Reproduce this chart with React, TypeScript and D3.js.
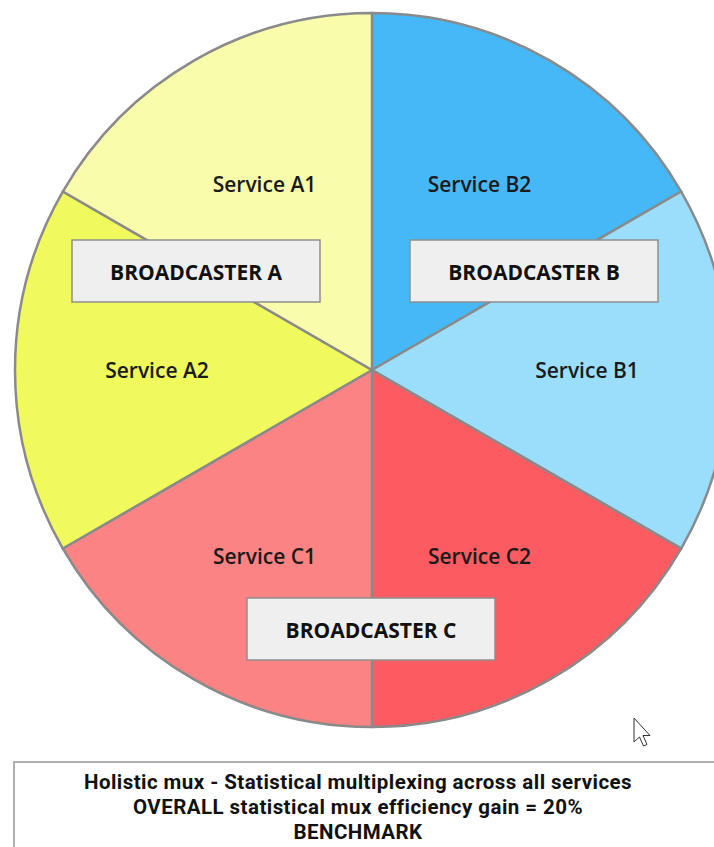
import React from "react";
import * as d3 from "d3";

const services = ["Service B2", "Service B1", "Service C2", "Service C1", "Service A2", "Service A1"];
const shares = [1, 1, 1, 1, 1, 1];
const sliceColors = ["#46b8f7", "#9bdefb", "#fb5b61", "#fb8384", "#f0fa5c", "#f9fcaa"];
const broadcasters = ["BROADCASTER A", "BROADCASTER B", "BROADCASTER C"];
const captionLines = [
  "Holistic mux - Statistical multiplexing across all services",
  "OVERALL statistical mux efficiency gain = 20%",
  "BENCHMARK",
];

const W = 714;
const H = 847;
const cx = 372;
const cy = 370;
const R = 357;
const FONT = "'Open Sans', sans-serif";
const CAPTION_FONT = "Roboto, 'Open Sans', sans-serif";
// layout: centres of the broadcaster boxes
const boxCentres: [number, number][] = [
  [196, 271],
  [534, 271],
  [371, 629],
];

export default function App() {
  const pie = d3.pie<number>().sort(null).value((d) => d);
  const arcs = pie(shares);
  const arc = d3.arc<d3.PieArcDatum<number>>().innerRadius(0).outerRadius(R);
  const labelArc = d3.arc<d3.PieArcDatum<number>>().innerRadius(215).outerRadius(215);

  const boxW = 248;
  const boxH = 62;

  return (
    <svg
      width={W}
      height={H}
      style={{ position: "absolute", left: 0, top: 0, background: "#ffffff" }}
    >
      <g transform={`translate(${cx},${cy})`}>
        {arcs.map((a, i) => (
          <path key={i} d={arc(a) || ""} fill={sliceColors[i]} stroke="#8a8a8a" strokeWidth={2.5} strokeLinejoin="round" />
        ))}
        {arcs.map((a, i) => {
          const [x, y] = labelArc.centroid(a);
          return (
            <text
              key={"l" + i}
              x={x}
              y={y}
              textAnchor="middle"
              dominantBaseline="central"
              fontFamily={FONT}
              fontWeight={600}
              fontSize={21}
              fill="#1a1a1a"
            >
              {services[i]}
            </text>
          );
        })}
      </g>
      {broadcasters.map((b, i) => {
        const [x, y] = boxCentres[i];
        return (
          <g key={"b" + i} transform={`translate(${x},${y})`}>
            <rect
              x={-boxW / 2}
              y={-boxH / 2}
              width={boxW}
              height={boxH}
              fill="#efefef"
              stroke="#8f8f8f"
              strokeWidth={1.5}
            />
            <text
              x={0}
              y={1}
              textAnchor="middle"
              dominantBaseline="central"
              fontFamily={FONT}
              fontWeight={700}
              fontSize={21}
              fill="#111"
            >
              {b}
            </text>
          </g>
        );
      })}

      {/* mouse cursor */}
      <path
        d="M634,718 L634,742 L639.5,737 L643.5,746 L647,744.5 L643,735.5 L650,735.5 Z"
        fill="#ffffff"
        stroke="#333"
        strokeWidth={1}
        strokeLinejoin="round"
      />

      <rect x={14} y={762} width={720} height={110} fill="#ffffff" stroke="#b0b0b0" strokeWidth={2} />
      {captionLines.map((t, i) => (
        <text
          key={"c" + i}
          x={358}
          y={789 + i * 25}
          textAnchor="middle"
          fontFamily={CAPTION_FONT}
          fontWeight={700}
          fontSize={20.5}
          letterSpacing={0.45}
          fill="#111"
        >
          {t}
        </text>
      ))}
    </svg>
  );
}
